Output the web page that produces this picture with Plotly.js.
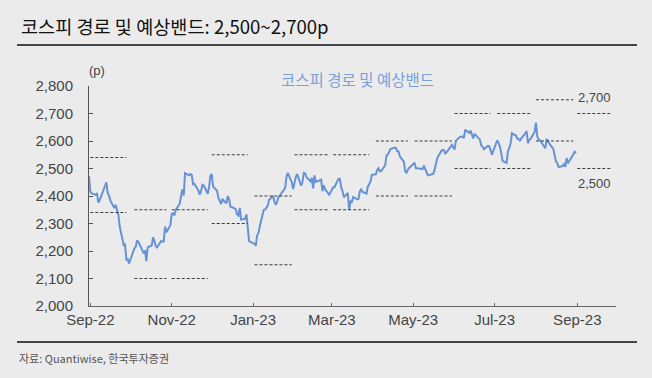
<!DOCTYPE html>
<html>
<head>
<meta charset="utf-8">
<script src="https://cdn.plot.ly/plotly-3.0.1.min.js"></script>
<style>
  html, body { margin: 0; padding: 0; background: #ebebeb; }
  #chart { width: 652px; height: 378px; }
</style>
</head>
<body>
<div id="chart"></div>
<script>
// KOSPI daily close
const dates = [
  '2022-08-31','2022-09-01','2022-09-02','2022-09-05','2022-09-06','2022-09-07','2022-09-08','2022-09-13','2022-09-14','2022-09-15',
  '2022-09-16','2022-09-19','2022-09-20','2022-09-21','2022-09-22','2022-09-23','2022-09-26','2022-09-27','2022-09-28','2022-09-29',
  '2022-09-30','2022-10-04','2022-10-05','2022-10-06','2022-10-07','2022-10-11','2022-10-12','2022-10-13','2022-10-14','2022-10-17',
  '2022-10-18','2022-10-19','2022-10-20','2022-10-21','2022-10-24','2022-10-25','2022-10-26','2022-10-27','2022-10-28','2022-10-31',
  '2022-11-01','2022-11-02','2022-11-03','2022-11-04','2022-11-07','2022-11-08','2022-11-09','2022-11-10','2022-11-11','2022-11-14',
  '2022-11-15','2022-11-16','2022-11-17','2022-11-18','2022-11-21','2022-11-22','2022-11-23','2022-11-24','2022-11-25','2022-11-28',
  '2022-11-29','2022-11-30','2022-12-01','2022-12-02','2022-12-05','2022-12-06','2022-12-07','2022-12-08','2022-12-09','2022-12-12',
  '2022-12-13','2022-12-14','2022-12-15','2022-12-16','2022-12-19','2022-12-20','2022-12-21','2022-12-22','2022-12-23','2022-12-26',
  '2022-12-27','2022-12-28','2022-12-29','2023-01-02','2023-01-03','2023-01-04','2023-01-05','2023-01-06','2023-01-09','2023-01-10',
  '2023-01-11','2023-01-12','2023-01-13','2023-01-16','2023-01-17','2023-01-18','2023-01-19','2023-01-20','2023-01-25','2023-01-26',
  '2023-01-27','2023-01-30','2023-01-31','2023-02-01','2023-02-02','2023-02-03','2023-02-06','2023-02-07','2023-02-08','2023-02-09',
  '2023-02-10','2023-02-13','2023-02-14','2023-02-15','2023-02-16','2023-02-17','2023-02-20','2023-02-21','2023-02-22','2023-02-23',
  '2023-02-24','2023-02-27','2023-02-28','2023-03-02','2023-03-03','2023-03-06','2023-03-07','2023-03-08','2023-03-09','2023-03-10',
  '2023-03-13','2023-03-14','2023-03-15','2023-03-16','2023-03-17','2023-03-20','2023-03-21','2023-03-22','2023-03-23','2023-03-24',
  '2023-03-27','2023-03-28','2023-03-29','2023-03-30','2023-03-31','2023-04-03','2023-04-04','2023-04-05','2023-04-06','2023-04-07',
  '2023-04-10','2023-04-11','2023-04-12','2023-04-13','2023-04-14','2023-04-17','2023-04-18','2023-04-19','2023-04-20','2023-04-21',
  '2023-04-24','2023-04-25','2023-04-26','2023-04-27','2023-04-28','2023-05-02','2023-05-03','2023-05-04','2023-05-08','2023-05-09',
  '2023-05-10','2023-05-11','2023-05-12','2023-05-15','2023-05-16','2023-05-17','2023-05-18','2023-05-19','2023-05-22','2023-05-23',
  '2023-05-24','2023-05-25','2023-05-26','2023-05-30','2023-05-31','2023-06-01','2023-06-02','2023-06-05','2023-06-07','2023-06-08',
  '2023-06-09','2023-06-12','2023-06-13','2023-06-14','2023-06-15','2023-06-16','2023-06-19','2023-06-20','2023-06-21','2023-06-22',
  '2023-06-23','2023-06-26','2023-06-27','2023-06-28','2023-06-29','2023-06-30','2023-07-03','2023-07-04','2023-07-05','2023-07-06',
  '2023-07-07','2023-07-10','2023-07-11','2023-07-12','2023-07-13','2023-07-14','2023-07-17','2023-07-18','2023-07-19','2023-07-20',
  '2023-07-21','2023-07-24','2023-07-25','2023-07-26','2023-07-27','2023-07-28','2023-07-31','2023-08-01','2023-08-02','2023-08-03',
  '2023-08-04','2023-08-07','2023-08-08','2023-08-09','2023-08-10','2023-08-11','2023-08-14','2023-08-16','2023-08-17','2023-08-18',
  '2023-08-21','2023-08-22','2023-08-23','2023-08-24','2023-08-25','2023-08-28','2023-08-29','2023-08-30','2023-08-31'
];
const kospi = [
  2472, 2416, 2409, 2404, 2410, 2376, 2384, 2450, 2411, 2402,
  2383, 2356, 2368, 2347, 2332, 2290, 2221, 2224, 2169, 2171,
  2155, 2209, 2215, 2238, 2233, 2192, 2202, 2163, 2213, 2220,
  2250, 2237, 2218, 2213, 2236, 2235, 2235, 2289, 2268, 2294,
  2335, 2337, 2329, 2349, 2372, 2399, 2424, 2402, 2483, 2475,
  2480, 2477, 2443, 2444, 2420, 2405, 2418, 2441, 2438, 2408,
  2433, 2473, 2480, 2434, 2419, 2393, 2383, 2371, 2389, 2373,
  2399, 2389, 2361, 2360, 2352, 2333, 2329, 2357, 2314, 2317,
  2333, 2280, 2236, 2226, 2219, 2256, 2265, 2290, 2350, 2351,
  2360, 2365, 2386, 2400, 2379, 2368, 2380, 2395, 2429, 2469,
  2484, 2450, 2425, 2450, 2469, 2480, 2438, 2451, 2484, 2482,
  2469, 2453, 2466, 2428, 2475, 2451, 2455, 2459, 2418, 2439,
  2424, 2405, 2413, 2432, 2432, 2463, 2463, 2432, 2419, 2395,
  2411, 2349, 2380, 2378, 2396, 2388, 2389, 2417, 2424, 2415,
  2409, 2434, 2443, 2453, 2477, 2479, 2495, 2501, 2490, 2491,
  2512, 2548, 2551, 2561, 2571, 2576, 2575, 2563, 2562, 2544,
  2524, 2489, 2485, 2496, 2502, 2521, 2501, 2501, 2498, 2510,
  2497, 2491, 2475, 2479, 2480, 2495, 2515, 2538, 2563, 2568,
  2567, 2555, 2559, 2586, 2577, 2569, 2601, 2615, 2616, 2611,
  2641, 2629, 2638, 2619, 2609, 2626, 2610, 2605, 2583, 2580,
  2570, 2582, 2581, 2564, 2550, 2564, 2602, 2593, 2579, 2556,
  2527, 2521, 2562, 2575, 2591, 2628, 2620, 2608, 2608, 2600,
  2610, 2628, 2636, 2592, 2604, 2608, 2633, 2667, 2616, 2605,
  2603, 2581, 2574, 2605, 2602, 2591, 2571, 2526, 2520, 2505,
  2509, 2516, 2506, 2538, 2519, 2543, 2552, 2561, 2556
];

// Monthly expected bands
const bandStart = ['2022-09-01','2022-10-04','2022-11-01','2022-12-01','2023-01-02','2023-02-01','2023-03-02','2023-04-03','2023-05-02','2023-06-01','2023-07-03','2023-08-01','2023-09-01'];
const bandEnd   = ['2022-09-28','2022-10-28','2022-11-28','2022-12-28','2023-01-30','2023-02-27','2023-03-29','2023-04-27','2023-05-30','2023-06-28','2023-07-28','2023-08-29','2023-09-27'];
const bandLow   = [2340, 2100, 2100, 2300, 2150, 2350, 2350, 2400, 2400, 2500, 2500, 2600, 2500];
const bandHigh  = [2540, 2350, 2350, 2550, 2400, 2550, 2550, 2600, 2600, 2700, 2700, 2750, 2700];

const tickDates  = ['2022-09-01','2022-11-01','2023-01-01','2023-03-01','2023-05-01','2023-07-01','2023-09-01'];
const tickLabels = ['Sep-22','Nov-22','Jan-23','Mar-23','May-23','Jul-23','Sep-23'];

const titleText  = '코스피 경로 및 예상밴드: 2,500~2,700p';
const seriesName = '코스피 경로 및 예상밴드';
const sourceText = '자료: Quantiwise, 한국투자증권';
const bandLabels = ['2,700', '2,500'];

const bx = [], by = [];
for (let i = 0; i < bandStart.length; i++) {
  bx.push(bandStart[i], bandEnd[i], null, bandStart[i], bandEnd[i], null);
  by.push(bandHigh[i], bandHigh[i], null, bandLow[i], bandLow[i], null);
}

const KR = '"Noto Sans CJK KR", "Noto Sans", sans-serif';
const NUM = '"Liberation Sans", Arial, sans-serif';

const traces = [
  {
    x: dates, y: kospi, type: 'scatter', mode: 'lines',
    line: { color: '#6892d6', width: 2 }, hoverinfo: 'skip'
  },
  {
    x: bx, y: by, type: 'scatter', mode: 'lines', connectgaps: false,
    line: { color: '#3c3c3c', width: 1.2, dash: '3px,2px' }, hoverinfo: 'skip'
  }
];

const W = 527, H = 220, L = 89, T = 86;
const px = v => (v - L) / W;
const py = v => (T + H - v) / H;

const layout = {
  width: 652, height: 378,
  paper_bgcolor: '#ebebeb', plot_bgcolor: '#ebebeb',
  margin: { l: 89, r: 36, t: 86, b: 72 },
  showlegend: false,
  title: {
    text: titleText, x: 21 / 652, xanchor: 'left', xref: 'container',
    y: 1 - 27.5 / 378, yanchor: 'middle', yref: 'container',
    font: { family: KR, size: 18.6, color: '#111', weight: 'normal' }
  },
  xaxis: {
    type: 'date', range: ['2022-08-31', '2023-09-30'],
    tickmode: 'array', tickvals: tickDates, ticktext: tickLabels,
    ticks: 'inside', ticklen: 3, tickcolor: '#666', tickwidth: 1,
    showline: true, linecolor: '#666', linewidth: 1,
    showgrid: false, zeroline: false,
    tickfont: { family: NUM, size: 15, color: '#454545' }
  },
  yaxis: {
    range: [2000, 2800], dtick: 100, tickformat: ',d',
    ticks: 'inside', ticklen: 4, tickcolor: '#555', tickwidth: 1,
    showline: true, linecolor: '#555', linewidth: 1,
    showgrid: false, zeroline: false,
    ticklabelstandoff: 12,
    tickfont: { family: NUM, size: 15, color: '#454545' }
  },
  shapes: [
    { type: 'line', xref: 'paper', yref: 'paper', x0: px(17), x1: px(637), y0: py(45), y1: py(45), line: { color: '#444', width: 2 } },
    { type: 'line', xref: 'paper', yref: 'paper', x0: px(17), x1: px(637), y0: py(342), y1: py(342), line: { color: '#444', width: 2 } }
  ],
  annotations: [
    { text: '(p)', xref: 'paper', yref: 'paper', x: px(97), y: py(70), xanchor: 'center', yanchor: 'middle', showarrow: false, font: { family: NUM, size: 13, color: '#454545' } },
    { text: seriesName, xref: 'paper', yref: 'paper', x: px(357), y: py(79), xanchor: 'center', yanchor: 'middle', showarrow: false, font: { family: KR, size: 15.5, color: '#7aa0da' } },
    { text: bandLabels[0], xref: 'x', yref: 'y', x: '2023-09-14', y: 2759, xanchor: 'center', yanchor: 'middle', showarrow: false, font: { family: NUM, size: 13, color: '#454545' } },
    { text: bandLabels[1], xref: 'x', yref: 'y', x: '2023-09-14', y: 2446, xanchor: 'center', yanchor: 'middle', showarrow: false, font: { family: NUM, size: 13, color: '#454545' } },
    { text: sourceText, xref: 'paper', yref: 'paper', x: px(17), y: py(357.5), xanchor: 'left', yanchor: 'middle', showarrow: false, font: { family: KR, size: 11, color: '#555' } }
  ]
};

Plotly.newPlot('chart', traces, layout, { staticPlot: true, displayModeBar: false });
</script>
</body>
</html>
